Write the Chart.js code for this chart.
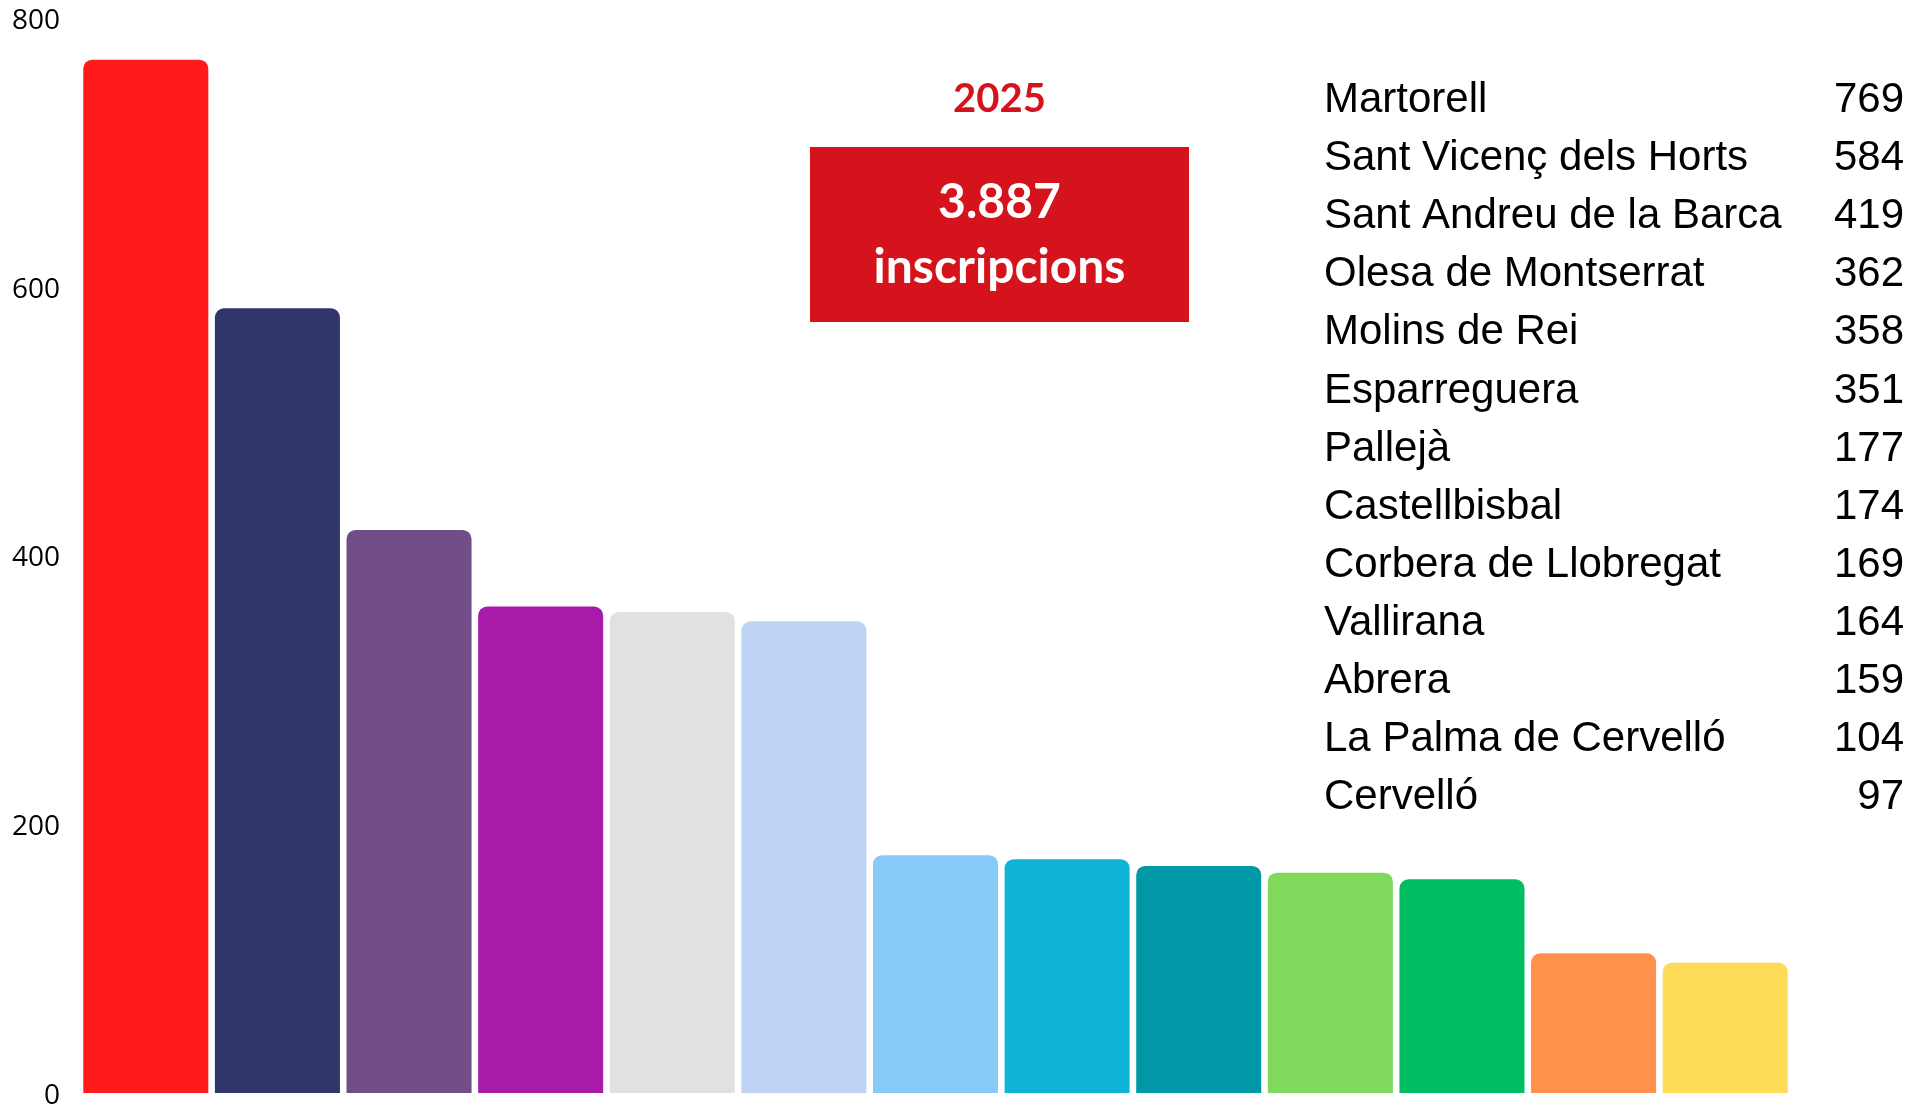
<!DOCTYPE html>
<html>
<head>
<meta charset="utf-8">
<script src="https://cdn.jsdelivr.net/npm/chart.js@4.4.1/dist/chart.umd.min.js"></script>
<style>
  html, body { margin: 0; padding: 0; background: #fff; }
  #wrap { width: 1923px; height: 1105px; }
</style>
</head>
<body>
<div id="wrap"><canvas id="inscChart" width="1923" height="1105"></canvas></div>
<script>
const municipis = ['Martorell', 'Sant Vicenç dels Horts', 'Sant Andreu de la Barca', 'Olesa de Montserrat',
  'Molins de Rei', 'Esparreguera', 'Pallejà', 'Castellbisbal', 'Corbera de Llobregat', 'Vallirana',
  'Abrera', 'La Palma de Cervelló', 'Cervelló'];
const inscripcions = [769, 584, 419, 362, 358, 351, 177, 174, 169, 164, 159, 104, 97];
const colors = ['#FF1A1C', '#30356B', '#714E88', '#A81AA8', '#E1E1E1', '#BFD4F4', '#86CBF7',
  '#0FB3D7', '#0097A7', '#80D95A', '#00BD62', '#FF914D', '#FFDB5A'];
const yTicks = [0, 200, 400, 600, 800];
const any = '2025';
const total = '3.887';

const textPlugin = {
  id: 'textPlugin',
  afterDraw(chart) {
    const c = chart.ctx;
    c.save();
    // year + total box
    c.fillStyle = '#D4131C';
    c.textAlign = 'center';
    c.textBaseline = 'alphabetic';
    c.font = 'bold 40px Lato';
    c.fillText(any, 999.5, 111.5);
    c.fillRect(810, 147, 379, 175);
    c.fillStyle = '#fff';
    c.font = 'bold 48px Lato';
    c.fillText(total, 999.5, 218);
    c.fillText('inscripcions', 999.5, 283);
    // list of municipalities
    c.fillStyle = '#000';
    c.font = '42px "Liberation Sans"';
    municipis.forEach((m, i) => {
      const y = 112 + i * 58.1;
      c.textAlign = 'left';
      c.fillText(m, 1324, y);
      c.textAlign = 'right';
      c.fillText(String(inscripcions[i]), 1904, y);
    });
    c.restore();
  }
};

const ctx = document.getElementById('inscChart').getContext('2d');
const myChart = new Chart(ctx, {
  type: 'bar',
  data: {
    labels: municipis,
    datasets: [{
      data: inscripcions,
      backgroundColor: colors,
      borderRadius: 9,
      categoryPercentage: 1,
      barPercentage: 0.95
    }]
  },
  options: {
    responsive: false,
    animation: false,
    layout: {
      autoPadding: false,
      padding: { left: 12, right: 132, top: 18, bottom: 12 }
    },
    plugins: {
      legend: { display: false },
      tooltip: { enabled: false }
    },
    scales: {
      x: { display: false },
      y: {
        min: 0,
        max: 800,
        afterFit(scale) {
          scale.width = 68;
          scale.paddingTop = 0;
          scale.paddingBottom = 0;
        },
        afterBuildTicks(scale) { scale.ticks = yTicks.map(v => ({ value: v })); },
        grid: { display: false, drawTicks: false },
        border: { display: false },
        ticks: {
          padding: 20,
          labelOffset: 3,
          color: '#000',
          font: { family: 'Open Sans', size: 28, lineHeight: 0.4 }
        }
      }
    }
  },
  plugins: [textPlugin]
});
</script>
</body>
</html>
